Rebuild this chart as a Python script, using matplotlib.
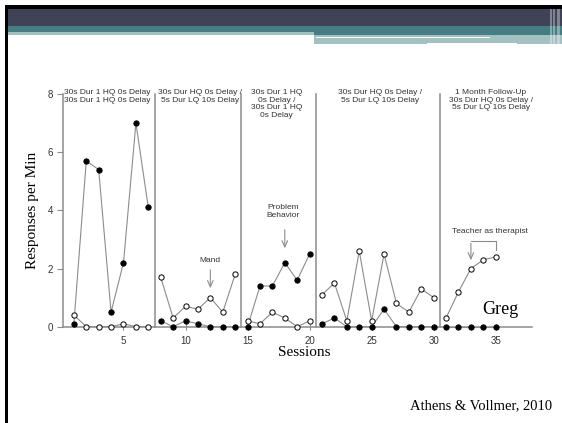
import matplotlib
matplotlib.use("Agg")
import matplotlib.pyplot as plt
from matplotlib.patches import Rectangle


FIG_W, FIG_H = 562, 423

# Sessions and response rates for each phase
phase1_sessions = [1, 2, 3, 4, 5, 6, 7]
phase1_filled = [0.1, 5.7, 5.4, 0.5, 2.2, 7.0, 4.1]
phase1_open = [0.4, 0.0, 0.0, 0.0, 0.1, 0.0, 0.0]

phase2_sessions = [8, 9, 10, 11, 12, 13, 14]
phase2_filled = [0.2, 0.0, 0.2, 0.1, 0.0, 0.0, 0.0]
phase2_open = [1.7, 0.3, 0.7, 0.6, 1.0, 0.5, 1.8]

phase3_sessions = [15, 16, 17, 18, 19, 20]
phase3_filled = [0.0, 1.4, 1.4, 2.2, 1.6, 2.5]
phase3_open = [0.2, 0.1, 0.5, 0.3, 0.0, 0.2]

phase4_sessions = [21, 22, 23, 24, 25, 26, 27, 28, 29, 30]
phase4_filled = [0.1, 0.3, 0.0, 0.0, 0.0, 0.6, 0.0, 0.0, 0.0, 0.0]
phase4_open = [1.1, 1.5, 0.2, 2.6, 0.2, 2.5, 0.8, 0.5, 1.3, 1.0]

phase5_sessions = [31, 32, 33, 34, 35]
phase5_filled = [0.0, 0.0, 0.0, 0.0, 0.0]
phase5_open = [0.3, 1.2, 2.0, 2.3, 2.4]

phase_changes = [7.5, 14.5, 20.5, 30.5]
phase_labels = [
	"30s Dur 1 HQ 0s Delay\n30s Dur 1 HQ 0s Delay",
	"30s Dur HQ 0s Delay /\n5s Dur LQ 10s Delay",
	"30s Dur 1 HQ\n0s Delay /\n30s Dur 1 HQ\n0s Delay",
	"30s Dur HQ 0s Delay /\n5s Dur LQ 10s Delay",
	"1 Month Follow-Up\n30s Dur HQ 0s Delay /\n5s Dur LQ 10s Delay",
]
phase_label_x = [3.67, 11.2, 17.35, 25.7, 34.6]

x_ticks = [5, 10, 15, 20, 25, 30, 35]
y_ticks = [0, 2, 4, 6, 8]

SANS = "Liberation Sans"
SERIF = "Liberation Serif"
GREY = "#8c8c8c"


def px_rect(fig, x, y, w, h, color, alpha=1.0):
	# rectangle given in pixel units from the top-left corner
	fig.patches.append(Rectangle(
		(x / FIG_W, 1 - (y + h) / FIG_H), w / FIG_W, h / FIG_H,
		transform=fig.transFigure, facecolor=color, edgecolor="none",
		alpha=alpha, zorder=0))


def draw_slide(fig):
	px_rect(fig, 5, 5, 557, 4, "black")
	px_rect(fig, 5, 5, 3, 418, "black")
	px_rect(fig, 8, 9, 554, 17, "#404255")
	px_rect(fig, 8, 26, 554, 6, "#467d82")
	px_rect(fig, 314, 32, 248, 3, "#467d82")
	px_rect(fig, 8, 32, 306, 3, "#a3c0c2")
	px_rect(fig, 314, 35, 248, 9, "#a3c0c2")
	px_rect(fig, 316, 37, 174, 1.5, "white")
	px_rect(fig, 427, 43, 90, 2, "white")
	for x, w in ((550, 1.5), (553, 1.5), (557, 3)):
		px_rect(fig, x, 9, w, 35, "white", alpha=0.35)


def draw_phase(ax, sessions, filled, opened):
	ax.plot(sessions, filled, color=GREY, lw=0.8, marker="o", ms=3.8,
		mfc="black", mec="black", mew=0.7, zorder=3, clip_on=False)
	ax.plot(sessions, opened, color=GREY, lw=0.8, marker="o", ms=3.8,
		mfc="white", mec="black", mew=0.7, zorder=4, clip_on=False)


def main():
	fig = plt.figure(figsize=(FIG_W / 100, FIG_H / 100), dpi=100)
	draw_slide(fig)

	ax = fig.add_axes([62.7 / FIG_W, 1 - 326.7 / FIG_H, 469 / FIG_W, 232.7 / FIG_H])
	ax.set_xlim(0.1, 37.9)
	ax.set_ylim(0, 8)

	draw_phase(ax, phase1_sessions, phase1_filled, phase1_open)
	draw_phase(ax, phase2_sessions, phase2_filled, phase2_open)
	draw_phase(ax, phase3_sessions, phase3_filled, phase3_open)
	draw_phase(ax, phase4_sessions, phase4_filled, phase4_open)
	draw_phase(ax, phase5_sessions, phase5_filled, phase5_open)

	for x in phase_changes:
		ax.plot([x, x], [0, 8], color=GREY, lw=1.1, zorder=2, clip_on=False)

	for x, label in zip(phase_label_x, phase_labels):
		ax.text(x, 8.17, label, ha="center", va="top", fontsize=6,
			family=SANS, color="#333333", linespacing=1.1)

	arrow = dict(arrowstyle="->,head_width=0.2,head_length=0.45", color=GREY, lw=0.8)
	ax.annotate("", xy=(12, 1.23), xytext=(12, 2.05), arrowprops=arrow)
	ax.text(12, 2.29, "Mand", ha="center", va="center", fontsize=6,
		family=SANS, color="#333333")

	ax.annotate("", xy=(18, 2.6), xytext=(18, 3.43), arrowprops=arrow)
	ax.text(17.9, 3.96, "Problem\nBehavior", ha="center", va="center", fontsize=6,
		family=SANS, color="#333333", linespacing=1.1)

	ax.plot([33, 35, 35], [2.95, 2.95, 2.64], color=GREY, lw=0.8)
	ax.annotate("", xy=(33, 2.19), xytext=(33, 2.96), arrowprops=arrow)
	ax.text(34.55, 3.29, "Teacher as therapist", ha="center", va="center",
		fontsize=6, family=SANS, color="#333333")

	ax.text(35.4, 0.58, "Greg", ha="center", va="center", fontsize=13,
		family=SERIF, color="black")

	for side in ("top", "right"):
		ax.spines[side].set_visible(False)
	for side in ("left", "bottom"):
		ax.spines[side].set_color(GREY)
		ax.spines[side].set_linewidth(1.1)

	ax.set_xticks(x_ticks)
	ax.set_yticks(y_ticks)
	ax.tick_params(axis="x", direction="inout", length=5, width=0.8, color=GREY,
		labelsize=7, labelcolor="#333333", pad=4)
	ax.tick_params(axis="y", direction="out", length=4, width=0.8, color=GREY,
		labelsize=7, labelcolor="#333333", pad=3)
	for lbl in ax.get_xticklabels() + ax.get_yticklabels():
		lbl.set_family(SANS)

	ax.set_xlabel("Sessions", fontsize=11, family=SERIF, labelpad=1)
	ax.xaxis.set_label_coords(0.5145, -0.085)
	ax.set_ylabel("Responses per Min", fontsize=11, family=SERIF, labelpad=6)

	fig.text(481 / FIG_W, 1 - 406 / FIG_H, "Athens & Vollmer, 2010", ha="center",
		va="center", fontsize=10.5, family=SERIF)

	fig.savefig("out.png", dpi=100)


if __name__ == '__main__':
	main()
